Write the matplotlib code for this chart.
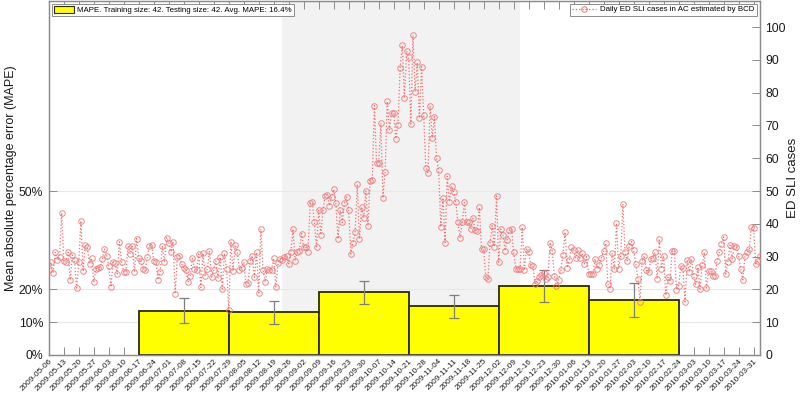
import matplotlib
matplotlib.use('Agg')
import matplotlib.pyplot as plt
import matplotlib.dates as mdates
import pandas as pd
from matplotlib.ticker import FuncFormatter
from matplotlib.lines import Line2D
from matplotlib.patches import Patch

plt.rcParams['font.family'] = ['Liberation Sans', 'DejaVu Sans']

# ---------------- data ----------------
start_date = '2009-05-06'
daily_cases = [
    25.8, 28.3, 25, 31.3, 29, 30, 43.3, 28.7, 28.3, 31.3,
    22.9, 30.5, 29, 20.4, 28.3, 40.9, 25.5, 33.6, 32.8, 27.8,
    29.5, 22.2, 26.3, 26.6, 26.8, 29.3, 32.3, 30.3, 27, 20.7,
    28.3, 28, 24.7, 34.5, 28.3, 25.3, 25.3, 33.3, 30.8, 33.3,
    25.3, 35.5, 29.5, 28.7, 26.3, 25.8, 29.8, 33.3, 33.6, 28.7,
    28.5, 23, 25.3, 33.3, 28.3, 35.8, 34.3, 31.5, 34.5, 18.7,
    29.8, 30.3, 27.8, 26.5, 26, 22.2, 24.2, 29.5, 26.3, 26,
    30.8, 20.6, 31, 24.2, 26.3, 31.8, 23.7, 25.8, 28.7, 23.5,
    29.8, 20.2, 31, 26.3, 13.8, 34.6, 25.5, 33.6, 31.5, 26,
    26.6, 28.3, 21.7, 21.9, 28.7, 30.3, 23.7, 31.3, 18.9, 38.4,
    26, 22.2, 26.3, 25.8, 26, 29.5, 20.7, 28, 29.3, 29,
    30, 30.3, 27.8, 31.3, 38.4, 28.7, 31.3,
    31.8, 37, 32.8, 33, 31.5, 46.2, 46.5, 40.4, 33, 44.1,
    36.6, 44.1, 48.5, 48.8, 45.5, 48.2, 50.5, 46.2, 35.4, 44.1,
    40.4, 46.2, 48.2, 44.1, 30.8, 34.3, 37.5, 52, 35.4, 45.2,
    41.9, 50, 39.4, 53,
    53.5, 76, 58.6, 58.6, 70.7, 47.9, 55.9, 77.3, 68.7, 73.7,
    73.8, 66, 70.2, 87.4, 94.4, 78.3, 92.6, 90.9, 70.4, 97.5,
    80.3, 89.2, 72.2, 87.9, 73.2, 57.1, 55.6, 75.8, 66.2, 72.7,
    60.1, 56.3, 39, 47.9, 34.3, 54.5, 46.8, 51.5, 49.7,
    46.5, 40.4, 35.7, 40.4, 46.5, 40.4, 40.4, 38.4, 41.7, 38.1,
    37.9, 45, 32.3, 32.3, 23.7, 23.2, 34.3, 39.4, 33, 48.5,
    28.3, 38.4, 36.6, 31.8, 35.1, 38.1, 38.4, 31.3, 26.3, 26.3,
    26.3, 38.9, 25.8, 32.3, 31.5, 27.3, 27, 21.7, 22.7, 23.7,
    24.4, 24.9, 23.2, 23.7,
    34.3, 31.8, 24.2, 20.9, 22.9, 25.9, 30.5, 37.5, 26.6, 28.9,
    32.8, 32, 29.6, 32, 29.6, 31, 27.8, 30, 24.7, 24.7,
    24.7, 29.3, 26.3, 27.3, 29.7, 31.6, 34.1, 21.7, 20.2, 31,
    26.3, 40.1, 26.3, 30.3, 46, 31.3, 28.8, 33.3, 34.6, 32,
    27.8, 23.2, 16.2, 28.8, 30.3, 25.8, 25.3, 29.3, 29.6, 31.3,
    23.2, 35.4, 26.3, 30.3, 18.2, 23.7, 22.7, 31.8, 31.8, 19.9,
    20.9, 27, 26.6, 16.2, 29, 25.3, 29.3, 24.2, 21.5, 26.8,
    20.1, 27.3, 31.3, 20.4, 25.5, 25.5, 24.2, 24.2, 28.6, 31.3,
    33.8, 36, 24.7, 28.3, 33.5, 29.3, 33.3, 33, 30.3, 26.3,
    22.9, 30.3, 31.3, 32.3, 39.1, 38.7, 27.8, 28.8, 30.3,
]

bar_starts = ['2009-06-17', '2009-07-29', '2009-09-09',
              '2009-10-21', '2009-12-02', '2010-01-13']
window_days = 42
mape = [13.5, 13.1, 19.2, 14.9, 21.1, 16.8]
mape_low = [9.7, 9.6, 15.7, 11.4, 16.2, 11.6]
mape_high = [17.3, 16.5, 22.7, 18.4, 26.0, 22.0]

season_start, season_end = '2009-08-23', '2009-12-12'
tick_start, tick_end = '2009-05-06', '2010-03-31'
mape_ticks = [0, 10, 20, 50]
case_ticks = list(range(0, 101, 10))

legend_bar = 'MAPE. Training size: 42. Testing size: 42. Avg. MAPE: 16.4%'
legend_line = 'Daily ED SLI cases in AC estimated by BCD'

# ---------------- plot ----------------
dates = pd.date_range(start_date, periods=len(daily_cases), freq='D')
xd = mdates.date2num(dates.to_pydatetime())
bx = mdates.date2num(pd.to_datetime(bar_starts).to_pydatetime())
centers = bx + window_days / 2.0
ticks = pd.date_range(tick_start, tick_end, freq='7D')
tx = mdates.date2num(ticks.to_pydatetime())

fig = plt.figure(figsize=(8, 3.94), dpi=100)
ax = fig.add_axes([0.061, 0.099, 0.889, 0.899])
spine_c = '#8c8c8c'
text_c = '#1a1a1a'

ax.axvspan(mdates.date2num(pd.Timestamp(season_start)),
           mdates.date2num(pd.Timestamp(season_end)),
           color='#f2f2f2', zorder=0, lw=0)
for t in [10, 20, 50]:
    ax.axhline(t, color='#e8e8e8', lw=0.8, zorder=0.5)

ax.bar(bx, mape, width=window_days, align='edge', color='#ffff00',
       edgecolor='#2a2a10', linewidth=1.3, zorder=2)
yerr = [[m - l for m, l in zip(mape, mape_low)],
        [h - m for m, h in zip(mape, mape_high)]]
ax.errorbar(centers, mape, yerr=yerr, fmt='none', ecolor='#7f7f7f',
            elinewidth=0.9, capsize=3.5, capthick=0.9, zorder=3)

ax.set_xlim(xd[0], xd[-1])
ax.set_ylim(0, 108)
ax.set_yticks(mape_ticks)
ax.yaxis.set_major_formatter(FuncFormatter(lambda v, p: '%d%%' % v))
ax.set_xticks(tx)
ax.set_xticklabels([d.strftime('%Y-%m-%d') for d in ticks], rotation=45,
                   ha='right', rotation_mode='anchor', fontsize=5.9,
                   color=text_c)
ax.tick_params(axis='x', direction='in', top=True, length=5.5, width=0.7,
               color=spine_c, pad=2)
ax.tick_params(axis='y', direction='in', length=5.5, width=0.7,
               color=spine_c, labelsize=8.8, labelcolor=text_c, pad=4)
ax.set_ylabel('Mean absolute percentage error (MAPE)', fontsize=9,
              labelpad=1, color=text_c)
for s in ax.spines.values():
    s.set_color(spine_c)
    s.set_linewidth(0.9)

ax2 = ax.twinx()
ax2.plot(xd, daily_cases, linestyle=':', color='#f06060', lw=0.9,
         marker='o', markersize=4, markerfacecolor='none',
         markeredgecolor='#f07a7a', markeredgewidth=0.7, alpha=0.9, zorder=4)
ax2.set_ylim(0, 108)
ax2.set_yticks(case_ticks)
ax2.tick_params(axis='y', direction='in', length=5.5, width=0.7,
                color=spine_c, labelsize=8.8, labelcolor=text_c, pad=4)
ax2.set_ylabel('ED SLI cases', fontsize=9.5, labelpad=1, color=text_c)
for s in ax2.spines.values():
    s.set_color(spine_c)
    s.set_linewidth(0.9)

leg1 = ax.legend([Patch(facecolor='#ffff00', edgecolor='#2a2a10', lw=0.8)],
                 [legend_bar], loc='upper left', fontsize=5.7,
                 fancybox=False, framealpha=1, edgecolor='#8c8c8c',
                 borderpad=0.3, handlelength=2.5, handleheight=0.9,
                 handletextpad=0.4, borderaxespad=0.35)
leg1.get_frame().set_linewidth(0.7)
leg1.set_zorder(10)
leg2 = ax2.legend([Line2D([0], [0], linestyle=':', color='#f06060', lw=0.9,
                          marker='o', markersize=4, markerfacecolor='none',
                          markeredgecolor='#f07a7a', markeredgewidth=0.7)],
                  [legend_line], loc='upper right', fontsize=5.7,
                  fancybox=False, framealpha=1, edgecolor='#8c8c8c',
                  borderpad=0.3, handlelength=3.0, handletextpad=0.6,
                  borderaxespad=0.35)
leg2.get_frame().set_linewidth(0.7)

fig.savefig('out.png', dpi=100)
